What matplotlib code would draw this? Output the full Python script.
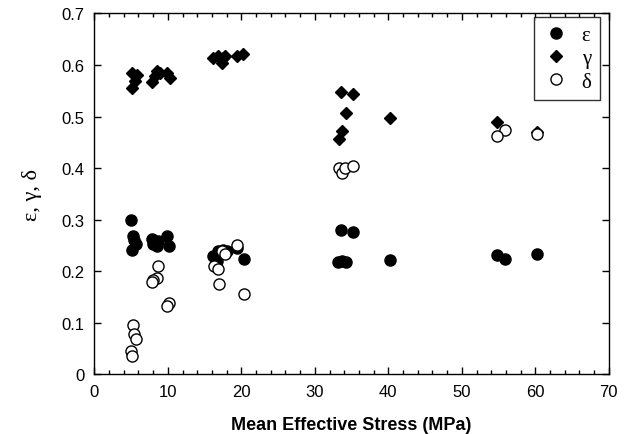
import matplotlib
matplotlib.use("Agg")
import matplotlib.pyplot as plt
from matplotlib.ticker import MultipleLocator

# ε (filled circles)
eps_x = [4.99, 5.30, 5.44, 5.63, 5.08, 7.80, 8.25, 8.70, 8.02, 8.48, 9.84, 10.15,
         16.17, 16.85, 17.53, 18.0, 19.36, 20.35, 16.64,
         33.49, 35.2, 33.17, 33.76, 34.21, 40.29,
         54.83, 55.82, 60.27]
eps_y = [0.299, 0.268, 0.260, 0.252, 0.242, 0.263, 0.258, 0.258, 0.252, 0.249, 0.268, 0.249,
         0.229, 0.239, 0.242, 0.239, 0.246, 0.223, 0.220,
         0.280, 0.277, 0.218, 0.220, 0.218, 0.221,
         0.231, 0.223, 0.234]

# γ (filled diamonds)
gam_x = [5.08, 5.76, 5.53, 5.08, 8.48, 8.93, 9.84, 10.29, 7.80, 8.25,
         16.17, 16.85, 17.32, 17.53, 17.77, 19.36, 20.25,
         33.49, 35.2, 34.21, 33.76, 33.26, 40.29,
         54.78, 60.27]
gam_y = [0.585, 0.580, 0.569, 0.556, 0.588, 0.585, 0.585, 0.575, 0.567, 0.578,
         0.614, 0.617, 0.604, 0.614, 0.617, 0.618, 0.622,
         0.548, 0.543, 0.507, 0.472, 0.456, 0.498,
         0.489, 0.470]

# δ (open circles)
del_x = [8.62, 8.48, 8.02, 7.80, 10.15, 9.84, 5.30, 5.44, 5.63, 4.99, 5.08,
         16.27, 16.85, 17.32, 17.77, 19.36, 16.95, 20.35,
         33.3, 33.76, 34.07, 35.2,
         55.82, 54.83, 60.27]
del_y = [0.211, 0.186, 0.183, 0.179, 0.138, 0.132, 0.096, 0.078, 0.069, 0.045, 0.036,
         0.211, 0.204, 0.239, 0.233, 0.251, 0.176, 0.156,
         0.401, 0.391, 0.400, 0.405,
         0.473, 0.462, 0.467]

series_labels = ["ε", "γ", "δ"]
xlabel = "Mean Effective Stress (MPa)"
ylabel = "ε, γ, δ"
yticks = [0, 0.1, 0.2, 0.3, 0.4, 0.5, 0.6, 0.7]
ytick_labels = ["0", "0.1", "0.2", "0.3", "0.4", "0.5", "0.6", "0.7"]

fig = plt.figure(figsize=(6.29, 4.35), dpi=100)
ax = fig.add_axes([0.150, 0.137, 0.818, 0.830])

ax.plot(eps_x, eps_y, 'o', color='black', markersize=8, linestyle='none', label=series_labels[0], zorder=3)
ax.plot(gam_x, gam_y, 'D', color='black', markersize=6.5, linestyle='none', label=series_labels[1], zorder=3)
ax.plot(del_x, del_y, 'o', markerfacecolor='white', markeredgecolor='black', markeredgewidth=1.0,
        markersize=8, linestyle='none', label=series_labels[2], zorder=4)

ax.set_xlim(0, 70)
ax.set_ylim(0, 0.7)
ax.xaxis.set_major_locator(MultipleLocator(10))
ax.xaxis.set_minor_locator(MultipleLocator(2))
ax.set_yticks(yticks)
ax.set_yticklabels(ytick_labels)
ax.tick_params(axis='both', which='both', direction='in', top=True, right=True,
               labelsize=12, width=1, colors='black')
ax.tick_params(axis='both', which='major', length=5, pad=7)
ax.tick_params(axis='both', which='minor', length=3)
for lab in ax.get_xticklabels() + ax.get_yticklabels():
    lab.set_fontfamily('Liberation Sans')
for sp in ax.spines.values():
    sp.set_linewidth(1)

ax.set_xlabel(xlabel, fontsize=13, fontweight='bold', family='Liberation Sans', labelpad=12)
ax.set_ylabel(ylabel, fontsize=16, family='Liberation Serif', labelpad=14)

leg = ax.legend(loc='upper right', bbox_to_anchor=(0.9825, 0.99), borderaxespad=0,
                frameon=True, fancybox=False, prop={'family': 'Liberation Serif', 'size': 15},
                handletextpad=0.6, labelspacing=0.18, borderpad=0.4, handlelength=1.3,
                markerscale=1.0)
leg.get_frame().set_edgecolor('black')
leg.get_frame().set_linewidth(1)

fig.savefig("out.png", dpi=100)
